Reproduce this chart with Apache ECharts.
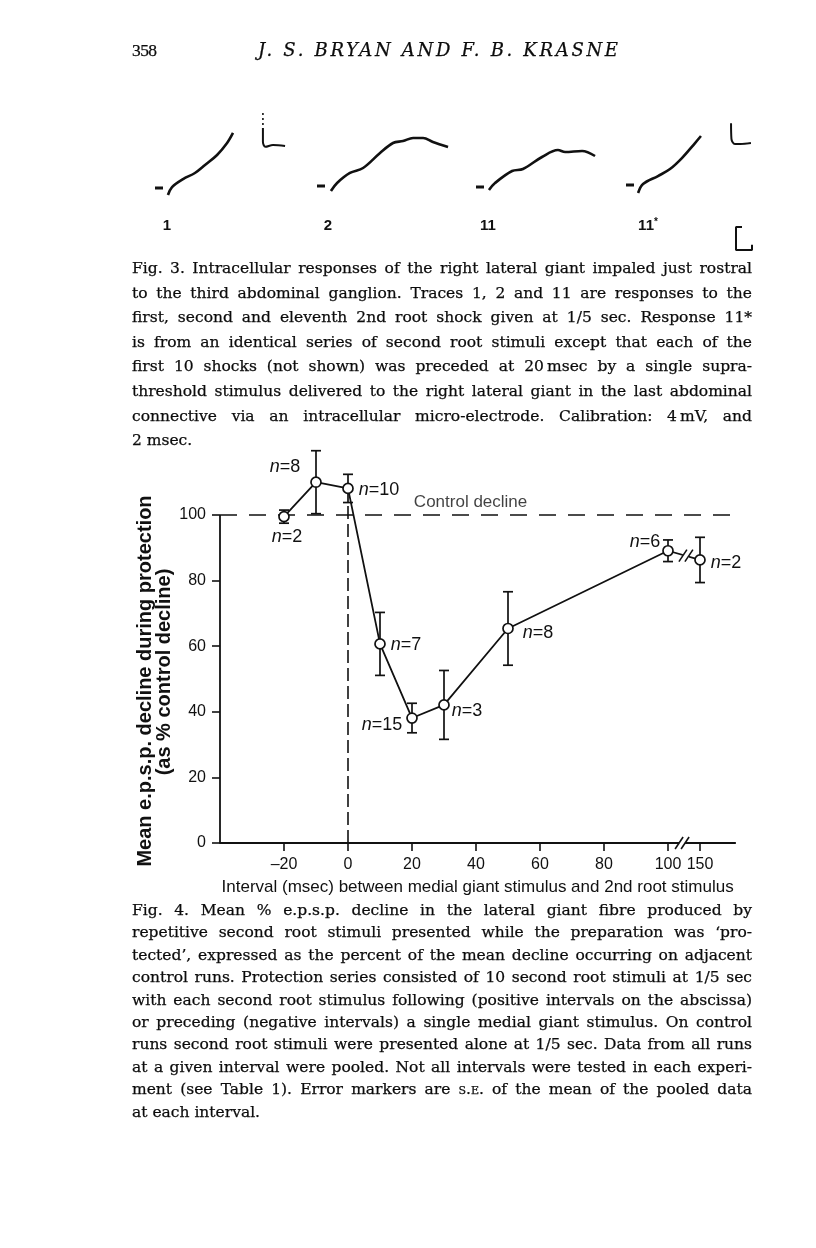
<!DOCTYPE html>
<html><head><meta charset="utf-8">
<script src="https://cdn.jsdelivr.net/npm/echarts@6/dist/echarts.min.js"></script>
<style>
html,body{margin:0;padding:0;background:#fff;}
#page{position:relative;width:816px;height:1248px;overflow:hidden;background:#fff;}
#chart{position:absolute;left:0;top:0;width:816px;height:1248px;}
.txt{position:absolute;font-family:"DejaVu Serif","Liberation Serif",serif;color:#0c0c0c;-webkit-text-stroke:0.25px #0c0c0c;}
.cap{left:132px;width:620px;}
.cap div{text-align:justify;text-align-last:justify;white-space:nowrap;}
.cap div.last{text-align-last:left;}
.tl{position:absolute;font-family:"Liberation Sans",Arial,sans-serif;font-weight:bold;font-size:15px;color:#111;transform:translateX(-50%);}
</style></head><body><div id="page"><div id="chart"></div>
<div class="txt" style="left:132px;top:40px;font-size:17.5px;font-family:'Liberation Serif',serif;letter-spacing:-0.6px;">358</div>
<div class="txt" id="runhead" style="left:258px;top:39px;font-size:18px;font-style:italic;white-space:nowrap;">J. S. BRYAN AND F. B. KRASNE</div>
<div class="tl" style="left:167px;top:216px;">1</div>
<div class="tl" style="left:328px;top:216px;">2</div>
<div class="tl" style="left:488px;top:216px;">11</div>
<div class="tl" style="left:648px;top:216px;">11<span style="font-size:10px;vertical-align:5px;">*</span></div>
<div class="txt cap" id="cap3" style="top:256px;"></div>
<div class="txt cap" id="cap4" style="top:899px;"></div>
</div>
<script>
// ---------- Fig. 4 data ----------
const intervals = [-20, -10, 0, 10, 20, 30, 50, 100, 110]; // 110 = plotted position of the 150 msec point (broken axis)
const meanDecline = [99.5, 110, 108.1, 60.7, 38.1, 42.1, 65.4, 89.1, 86.3];
const stdErr = [2, 9.6, 4.3, 9.6, 4.5, 10.5, 11.2, 3.3, 6.9];
const nLabels = ['n=2', 'n=8', 'n=10', 'n=7', 'n=15', 'n=3', 'n=8', 'n=6', 'n=2'];
const xTickValues = [-20, 0, 20, 40, 60, 80, 100, 110];
const xTickLabels = ['\u201320', '0', '20', '40', '60', '80', '100', '150'];
const yTickValues = [0, 20, 40, 60, 80, 100];
const controlLevel = 100;
const breakMarks = [[104.4, 0], [105.6, 87.6]];

// ---------- Fig. 3 traces (msec, mV from baseline) ----------
const baseDash = [[0, 0], [1.0, 0]];
const trace1 = [[1.62,-1.22],[2.13,0.17],[3.51,1.56],[4.99,2.61],[6.25,4.0],[7.76,5.74],[9.01,7.82],[9.75,9.57]];
const trace1Dots = [[13.49,13.06],[13.49,10.43]];
const trace1Tail = [[13.49,10.43],[13.49,8.03],[13.81,7.17],[14.75,7.48],[16.26,7.30]];
const trace2 = [[1.74,-0.88],[2.51,0.52],[4.12,2.27],[5.76,3.13],[7.88,5.74],[9.5,7.48],[10.75,7.82],[12.01,8.35],[13.26,8.35],[14.49,7.65],[16.38,6.79]];
const trace11 = [[1.62,-0.52],[2.38,0.69],[4.51,2.78],[5.87,3.13],[8.25,5.22],[10.24,6.43],[11.14,6.08],[13.26,6.26],[14.88,5.39]];
const trace11s = [[1.51,-1.39],[2.13,0.17],[4.0,1.56],[5.5,2.78],[6.99,4.69],[8.63,7.3],[9.37,8.52]];
const trace11sTail = [[13.13,10.76],[13.18,8.03],[13.62,7.13],[14.26,7.13],[15.62,7.30]];
const calibBar = [[14.5,-7.3],[13.75,-7.3],[13.75,-11.3],[15.75,-11.3],[15.75,-10.4]]; // 4 mV, 2 msec

// ---------- captions ----------
const cap3Lines = [
 'Fig. 3. Intracellular responses of the right lateral giant impaled just rostral',
 'to the third abdominal ganglion. Traces 1, 2 and 11 are responses to the',
 'first, second and eleventh 2nd root shock given at 1/5 sec. Response 11*',
 'is from an identical series of second root stimuli except that each of the',
 'first 10 shocks (not shown) was preceded at 20\u2009msec by a single supra-',
 'threshold stimulus delivered to the right lateral giant in the last abdominal',
 'connective via an intracellular micro-electrode. Calibration: 4\u2009mV, and',
 '2 msec.'];
const cap4Lines = [
 'Fig. 4. Mean % e.p.s.p. decline in the lateral giant fibre produced by',
 'repetitive second root stimuli presented while the preparation was \u2018pro-',
 'tected\u2019, expressed as the percent of the mean decline occurring on adjacent',
 'control runs. Protection series consisted of 10 second root stimuli at 1/5 sec',
 'with each second root stimulus following (positive intervals on the abscissa)',
 'or preceding (negative intervals) a single medial giant stimulus. On control',
 'runs second root stimuli were presented alone at 1/5 sec. Data from all runs',
 'at a given interval were pooled. Not all intervals were tested in each experi-',
 'ment (see Table 1). Error markers are s.e. of the mean of the pooled data',
 'at each interval.'];

function fillCap(id, lines, lh){
  const el = document.getElementById(id);
  const meas = document.createElement('span');
  meas.style.cssText = 'position:absolute;visibility:hidden;white-space:nowrap;font-family:inherit;';
  el.appendChild(meas);
  let fs = 15.5;
  const widest = () => Math.max(...lines.map(t => { meas.textContent = t; return meas.getBoundingClientRect().width; }));
  meas.style.fontSize = fs + 'px';
  while (widest() > 612 && fs > 10) { fs -= 0.1; meas.style.fontSize = fs + 'px'; }
  el.removeChild(meas);
  el.style.fontSize = fs + 'px';
  lines.forEach((t, i) => {
    const d = document.createElement('div');
    d.style.height = lh + 'px'; d.style.lineHeight = lh + 'px';
    if (i === lines.length - 1) d.className = 'last';
    if (t.indexOf('s.e.') >= 0) {
      const parts = t.split('s.e.');
      d.appendChild(document.createTextNode(parts[0]));
      const s = document.createElement('span'); s.style.fontVariant = 'small-caps'; s.textContent = 's.e.';
      d.appendChild(s); d.appendChild(document.createTextNode(parts[1]));
    } else d.textContent = t;
    el.appendChild(d);
  });
}
fillCap('cap3', cap3Lines, 24.6);
fillCap('cap4', cap4Lines, 22.4);
(function(){
  const rh = document.getElementById('runhead');
  const w = rh.getBoundingClientRect().width;
  const n = rh.textContent.length - 1;
  rh.style.letterSpacing = ((360 - w) / n) + 'px';
})();

// ---------- chart ----------
const INK = '#111';
const SANS = '"Liberation Sans", Arial, sans-serif';
const labelOffsets = [[3,20],[-31,-15],[31,2],[26,1],[-30,7],[23,6],[30,5],[-23,-9],[26,3]];
const traceOrigins = [[155,188],[317,186],[476,187],[626,185]];

const chart = echarts.init(document.getElementById('chart'), null, {renderer: 'canvas'});

const grids = [{left: 220, top: 449.4, width: 515.2, height: 393.6}];
const xAxes = [{
  type: 'value', gridIndex: 0, min: -40, max: 121,
  axisLine: {show: true, onZero: false, lineStyle: {color: INK, width: 1.8}},
  axisTick: {show: true, customValues: xTickValues, length: 8, lineStyle: {color: INK, width: 1.6}},
  axisLabel: {show: true, customValues: xTickValues, margin: 14, fontFamily: SANS, fontSize: 16, color: INK,
    formatter: v => xTickLabels[xTickValues.indexOf(v)] ?? ''},
  splitLine: {show: false},
  name: 'Interval (msec) between medial giant stimulus and 2nd root stimulus',
  nameLocation: 'middle', nameGap: 36,
  nameTextStyle: {fontFamily: SANS, fontSize: 17, color: INK}
}];
const yAxes = [{
  type: 'value', gridIndex: 0, min: 0, max: 120,
  axisLine: {show: false, onZero: false},
  axisTick: {show: true, customValues: yTickValues, length: 8, lineStyle: {color: INK, width: 1.6}},
  axisLabel: {show: true, customValues: yTickValues, margin: 14, fontFamily: SANS, fontSize: 16, color: INK},
  splitLine: {show: false}
}];
traceOrigins.forEach((o, i) => {
  grids.push({left: o[0], top: o[1] - 80.5, width: 144, height: 149.5});
  xAxes.push({type: 'value', gridIndex: i + 1, min: 0, max: 18, show: false});
  yAxes.push({type: 'value', gridIndex: i + 1, min: -12, max: 14, show: false});
});

const traceLine = (data, idx, extra) => Object.assign({
  type: 'line', xAxisIndex: idx, yAxisIndex: idx, data: data, symbol: 'none', smooth: 0.35,
  lineStyle: {color: INK, width: 2.6}, silent: true, animation: false
}, extra || {});

const series = [
  {type: 'line', data: [[-40, 0], [-40, controlLevel]], symbol: 'none', lineStyle: {color: INK, width: 1.8}, animation: false, z: 3},
  {type: 'line', data: [[-40, controlLevel], [121, controlLevel]], symbol: 'none', lineStyle: {color: INK, width: 1.6, type: [17, 12]}, animation: false, z: 2},
  {type: 'line', data: [[0, 0], [0, 103.5]], symbol: 'none', lineStyle: {color: INK, width: 1.6, type: [13, 5]}, animation: false, z: 2},
  {type: 'scatter', data: [[38.3, 103.8]], symbolSize: 0, silent: true, animation: false,
   label: {show: true, position: 'inside', formatter: 'Control decline', fontFamily: SANS, fontSize: 17, color: INK}},
  {type: 'line', data: intervals.slice(0, 8).map((x, i) => [x, meanDecline[i]]), symbol: 'none',
   lineStyle: {color: INK, width: 1.8}, animation: false, z: 4},
  {type: 'line', data: intervals.slice(7).map((x, i) => [x, meanDecline[i + 7]]), symbol: 'none',
   lineStyle: {color: INK, width: 1.8}, animation: false, z: 4},
  {type: 'custom', data: intervals.map((x, i) => [x, meanDecline[i] - stdErr[i], meanDecline[i] + stdErr[i]]),
   encode: {x: 0, y: [1, 2]}, z: 5, animation: false, silent: true,
   renderItem: (params, api) => {
     const x = api.value(0);
     const a = api.coord([x, api.value(1)]), b = api.coord([x, api.value(2)]);
     const w = 5, st = {stroke: INK, lineWidth: 1.7};
     return {type: 'group', children: [
       {type: 'line', shape: {x1: a[0], y1: a[1], x2: b[0], y2: b[1]}, style: st},
       {type: 'line', shape: {x1: a[0] - w, y1: a[1], x2: a[0] + w, y2: a[1]}, style: st},
       {type: 'line', shape: {x1: b[0] - w, y1: b[1], x2: b[0] + w, y2: b[1]}, style: st}
     ]};
   }},
  {type: 'custom', data: breakMarks, encode: {x: 0, y: 1}, z: 6, animation: false, silent: true,
   renderItem: (params, api) => {
     const p = api.coord([api.value(0), api.value(1)]);
     const st = {stroke: INK, lineWidth: 1.6};
     return {type: 'group', children: [
       {type: 'rect', shape: {x: p[0] - 3, y: p[1] - 3, width: 6, height: 6}, style: {fill: '#fff'}},
       {type: 'line', shape: {x1: p[0] - 7, y1: p[1] + 6, x2: p[0] + 1, y2: p[1] - 6}, style: st},
       {type: 'line', shape: {x1: p[0] - 1, y1: p[1] + 6, x2: p[0] + 7, y2: p[1] - 6}, style: st}
     ]};
   }},
  {type: 'scatter', z: 7, animation: false, symbol: 'circle', symbolSize: 10,
   itemStyle: {color: '#fff', borderColor: INK, borderWidth: 1.7, opacity: 1},
   data: intervals.map((x, i) => ({value: [x, meanDecline[i]],
     label: {show: true, position: 'inside', offset: labelOffsets[i],
       formatter: '{i|n}{r|' + nLabels[i].slice(1) + '}',
       rich: {i: {fontFamily: SANS, fontStyle: 'italic', fontSize: 18, color: INK},
              r: {fontFamily: SANS, fontSize: 18, color: INK}}}}))},
  traceLine(baseDash, 1, {smooth: false, lineStyle: {color: INK, width: 3}}),
  traceLine(trace1, 1),
  traceLine(trace1Dots, 1, {smooth: false, lineStyle: {color: INK, width: 1.6, type: [2, 3]}}),
  traceLine(trace1Tail, 1, {lineStyle: {color: INK, width: 2}}),
  traceLine(baseDash, 2, {smooth: false, lineStyle: {color: INK, width: 3}}),
  traceLine(trace2, 2),
  traceLine(baseDash, 3, {smooth: false, lineStyle: {color: INK, width: 3}}),
  traceLine(trace11, 3),
  traceLine(baseDash, 4, {smooth: false, lineStyle: {color: INK, width: 3}}),
  traceLine(trace11s, 4),
  traceLine(trace11sTail, 4, {lineStyle: {color: INK, width: 2}}),
  traceLine(calibBar, 4, {smooth: false, lineStyle: {color: INK, width: 2}})
];

const yTitleFont = 'bold 20px "Liberation Sans", Arial, sans-serif';
chart.setOption({
  backgroundColor: 'transparent',
  animation: false,
  grid: grids,
  xAxis: xAxes,
  yAxis: yAxes,
  graphic: [{
    type: 'text', x: 145, y: 681, rotation: Math.PI / 2,
    style: {text: 'Mean e.p.s.p. decline during protection', align: 'center', verticalAlign: 'middle', font: yTitleFont, fill: INK}
  }, {
    type: 'text', x: 164, y: 672, rotation: Math.PI / 2,
    style: {text: '(as % control decline)', align: 'center', verticalAlign: 'middle', font: yTitleFont, fill: INK}
  }],
  series: series
});
</script>
</body></html>
